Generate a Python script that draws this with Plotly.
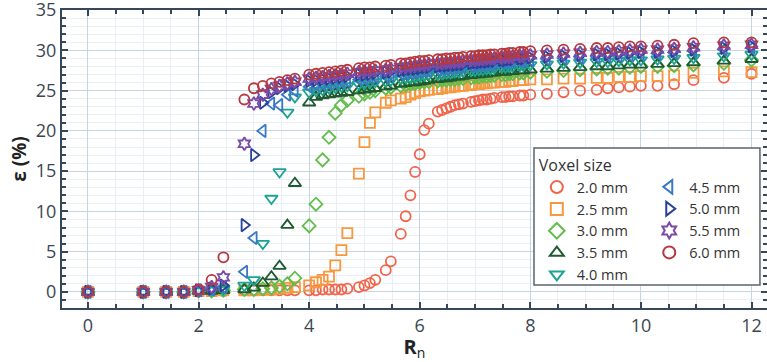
import plotly.graph_objects as go

# Normalised radius R_n (shared x positions of all series)
Rn = [0, 1, 1.414, 1.732, 2, 2.236, 2.449, 2.828, 3, 3.162,
      3.317, 3.464, 3.606, 3.742, 4, 4.123, 4.243, 4.359, 4.472, 4.583,
      4.690, 4.899, 5, 5.099, 5.196, 5.385, 5.477, 5.657, 5.745, 5.831,
      5.916, 6, 6.083, 6.164, 6.325, 6.403, 6.481, 6.557, 6.633, 6.708,
      6.782, 6.928, 7, 7.071, 7.141, 7.211, 7.280, 7.348, 7.483, 7.550,
      7.616, 7.681, 7.810, 7.874, 8, 8.3, 8.6, 8.9, 9.2, 9.4,
      9.6, 9.8, 10.0, 10.3, 10.6, 10.95, 11.5, 12.0]

eps_2_0 = [0, 0, 0, 0, 0.1, 0.1, 0.1, 0.2, 0.2, 0.2,
           0.2, 0.2, 0.2, 0.2, 0.2, 0.2, 0.3, 0.3, 0.3, 0.3,
           0.4, 0.6, 0.8, 1.1, 1.5, 2.7, 3.8, 7.2, 9.4, 12.0,
           14.9, 17.1, 20.1, 20.9, 22.4, 22.6, 22.8, 23.0, 23.2, 23.3,
           23.4, 23.6, 23.7, 23.8, 23.9, 23.9, 24.0, 24.1, 24.2, 24.2,
           24.3, 24.3, 24.4, 24.4, 24.5, 24.6, 24.8, 25.0, 25.1, 25.3,
           25.4, 25.5, 25.6, 25.6, 25.8, 26.3, 26.6, 27.1]
eps_2_5 = [0, 0, 0, 0, 0.1, 0.1, 0.2, 0.2, 0.2, 0.3,
           0.3, 0.4, 0.5, 0.6, 0.8, 1.2, 1.5, 1.9, 3.3, 5.2,
           7.3, 14.7, 18.6, 21.0, 22.3, 23.5, 23.8, 24.0, 24.2, 24.5,
           24.7, 24.9, 25.0, 25.1, 25.2, 25.3, 25.4, 25.4, 25.5, 25.6,
           25.6, 25.7, 25.8, 25.8, 25.9, 25.9, 26.0, 26.0, 26.1, 26.1,
           26.2, 26.2, 26.3, 26.3, 26.4, 26.4, 26.5, 26.5, 26.6, 26.6,
           26.7, 26.7, 26.8, 26.8, 26.9, 27.2, 27.4, 27.3]
eps_3_0 = [0, 0, 0, 0, 0.1, 0.1, 0.2, 0.3, 0.3, 0.4,
           0.5, 0.7, 1.0, 1.7, 8.2, 10.9, 16.4, 19.2, 22.2, 23.2,
           23.8, 24.3, 24.6, 24.8, 25.0, 25.3, 25.4, 25.6, 25.7, 25.8,
           25.9, 26.0, 26.1, 26.1, 26.2, 26.3, 26.3, 26.4, 26.4, 26.5,
           26.5, 26.6, 26.7, 26.7, 26.8, 26.8, 26.9, 26.9, 27.0, 27.0,
           27.1, 27.1, 27.2, 27.2, 27.3, 27.4, 27.5, 27.6, 27.7, 27.8,
           27.8, 27.9, 28.0, 28.0, 28.1, 28.2, 28.4, 28.8]
eps_3_5 = [0, 0, 0, 0, 0.1, 0.1, 0.2, 0.3, 0.5, 1.1,
           1.9, 3.2, 8.3, 13.5, 23.5, 24.2, 24.4, 24.5, 24.6, 24.7,
           24.8, 25.0, 25.1, 25.2, 25.3, 25.5, 25.6, 25.8, 25.9, 26.0,
           26.0, 26.1, 26.2, 26.3, 26.4, 26.5, 26.5, 26.6, 26.7, 26.7,
           26.8, 26.9, 27.0, 27.0, 27.1, 27.1, 27.2, 27.2, 27.3, 27.3,
           27.4, 27.4, 27.5, 27.5, 27.6, 27.7, 27.8, 27.9, 28.0, 28.0,
           28.1, 28.2, 28.2, 28.3, 28.4, 28.5, 28.7, 28.9]
eps_4_0 = [0, 0, 0, 0, 0.1, 0.2, 0.3, 0.8, 1.5, 6.0,
           11.6, 14.9, 22.3, 24.2, 24.8, 25.0, 25.1, 25.3, 25.4, 25.5,
           25.6, 25.8, 25.9, 26.0, 26.1, 26.2, 26.3, 26.5, 26.6, 26.6,
           26.7, 26.8, 26.9, 27.0, 27.0, 27.1, 27.2, 27.2, 27.3, 27.3,
           27.4, 27.5, 27.5, 27.6, 27.6, 27.7, 27.7, 27.8, 27.9, 27.9,
           28.0, 28.0, 28.1, 28.1, 28.2, 28.3, 28.4, 28.5, 28.6, 28.6,
           28.7, 28.8, 28.8, 28.9, 29.0, 29.1, 29.3, 29.5]
eps_4_5 = [0, 0, 0, 0, 0.2, 0.3, 0.6, 2.5, 6.7, 20.0,
           23.4, 23.2, 24.5, 25.0, 25.5, 25.7, 25.8, 25.9, 26.0, 26.1,
           26.2, 26.4, 26.5, 26.6, 26.7, 26.8, 26.9, 27.1, 27.2, 27.2,
           27.3, 27.4, 27.5, 27.5, 27.6, 27.7, 27.7, 27.8, 27.9, 27.9,
           28.0, 28.1, 28.1, 28.2, 28.2, 28.3, 28.3, 28.4, 28.5, 28.5,
           28.6, 28.6, 28.7, 28.7, 28.8, 28.9, 29.0, 29.1, 29.2, 29.3,
           29.3, 29.4, 29.5, 29.6, 29.7, 29.9, 30.1, 30.3]
eps_5_0 = [0, 0, 0, 0, 0.2, 0.4, 0.8, 8.3, 17.0, 23.5,
           24.8, 25.3, 25.6, 25.8, 26.2, 26.3, 26.4, 26.5, 26.6, 26.7,
           26.8, 27.0, 27.0, 27.1, 27.2, 27.3, 27.4, 27.5, 27.6, 27.7,
           27.7, 27.8, 27.9, 27.9, 28.0, 28.1, 28.1, 28.2, 28.2, 28.3,
           28.3, 28.4, 28.5, 28.5, 28.6, 28.6, 28.7, 28.7, 28.8, 28.8,
           28.9, 28.9, 29.0, 29.0, 29.1, 29.2, 29.3, 29.4, 29.5, 29.5,
           29.6, 29.7, 29.8, 29.8, 29.9, 30.1, 30.3, 30.5]
eps_5_5 = [0, 0, 0, 0, 0.2, 0.6, 1.8, 18.4, 23.4, 24.5,
           25.2, 25.6, 25.9, 26.1, 26.5, 26.6, 26.7, 26.8, 26.9, 27.0,
           27.1, 27.3, 27.4, 27.4, 27.5, 27.6, 27.7, 27.9, 27.9, 28.0,
           28.1, 28.2, 28.2, 28.3, 28.4, 28.4, 28.5, 28.5, 28.6, 28.6,
           28.7, 28.8, 28.8, 28.9, 28.9, 29.0, 29.0, 29.0, 29.1, 29.2,
           29.2, 29.2, 29.3, 29.3, 29.4, 29.5, 29.6, 29.7, 29.8, 29.8,
           29.9, 30.0, 30.1, 30.1, 30.2, 30.4, 30.6, 30.7]
eps_6_0 = [0, 0, 0, 0, 0.3, 1.5, 4.3, 23.9, 25.3, 25.6,
           25.9, 26.1, 26.3, 26.5, 27.0, 27.1, 27.2, 27.3, 27.4, 27.5,
           27.6, 27.8, 27.9, 27.9, 28.0, 28.1, 28.2, 28.4, 28.4, 28.5,
           28.6, 28.7, 28.7, 28.8, 28.9, 28.9, 29.0, 29.0, 29.1, 29.1,
           29.2, 29.3, 29.3, 29.4, 29.4, 29.4, 29.5, 29.5, 29.6, 29.6,
           29.7, 29.7, 29.8, 29.8, 29.9, 30.0, 30.1, 30.2, 30.3, 30.3,
           30.4, 30.5, 30.5, 30.6, 30.7, 30.9, 31.0, 31.0]

labels = ["2.0 mm", "2.5 mm", "3.0 mm", "3.5 mm", "4.0 mm",
          "4.5 mm", "5.0 mm", "5.5 mm", "6.0 mm"]
series = [eps_2_0, eps_2_5, eps_3_0, eps_3_5, eps_4_0,
          eps_4_5, eps_5_0, eps_5_5, eps_6_0]
symbols = ["circle-open", "square-open", "diamond-open", "triangle-up-open",
           "triangle-down-open", "triangle-left-open", "triangle-right-open",
           "hexagram-open", "circle-open"]
colors = ["#f0644c", "#f7983f", "#62bd4a", "#1f5a33", "#1ca391",
          "#3a78c6", "#283f97", "#7b4aa6", "#b7383d"]

AX = "#37475a"
TXT = "#3a4652"
FONT = "Open Sans, Noto Sans, sans-serif"

fig = go.Figure()
for i, (lab, ys) in enumerate(zip(labels, series)):
    fig.add_trace(go.Scatter(
        x=Rn, y=ys, mode="markers", name=lab,
        legend="legend" if i < 5 else "legend2",
        marker=dict(symbol=symbols[i], size=10 if "triangle" not in symbols[i] else 11,
                    color=colors[i], line=dict(width=1.8, color=colors[i])),
    ))

axis_common = dict(
    showline=True, linecolor=AX, linewidth=2, mirror="allticks",
    ticks="inside", ticklen=6, tickwidth=1.5, tickcolor=AX,
    showgrid=True, gridcolor="#c5d6e1", gridwidth=1,
    zeroline=False, automargin=False, ticklabeloverflow="allow",
    tickfont=dict(family=FONT, size=18, color=TXT),
)

fig.update_xaxes(
    range=[-0.47, 12.28], dtick=2, tick0=0,
    minor=dict(dtick=0.5, ticks="inside", ticklen=4, tickcolor=AX,
               showgrid=True, gridcolor="#e9f0f5"),
    title=dict(text="<b>R</b><sub>n</sub>", font=dict(family=FONT, size=20, color="#222"),
               standoff=4),
    **axis_common,
)
fig.update_yaxes(
    range=[-2, 35.02], dtick=5, tick0=0,
    minor=dict(dtick=1, ticks="inside", ticklen=4, tickcolor=AX,
               showgrid=True, gridcolor="#e9f0f5"),
    title=dict(text="<b>ε (%)</b>", font=dict(family=FONT, size=19, color="#222"),
               standoff=4),
    **axis_common,
)

fig.add_shape(type="rect", xref="paper", yref="paper",
              x0=0.6695, x1=0.990, y0=0.077, y1=0.537, layer="above",
              fillcolor="white", line=dict(color="#5a6570", width=1.5))

leg_font = dict(family=FONT, size=14.5, color="#333")
fig.update_layout(
    width=767, height=362,
    margin=dict(l=62, r=0, t=10, b=54, autoexpand=False),
    paper_bgcolor="white", plot_bgcolor="white",
    font=dict(family=FONT, color=TXT),
    legend=dict(x=0.6735, y=0.529, xanchor="left", yanchor="top",
                bgcolor="rgba(0,0,0,0)", font=leg_font,
                title=dict(text="Voxel size", font=dict(family=FONT, size=16, color="#333")),
                tracegroupgap=0, itemsizing="constant"),
    legend2=dict(x=0.833, y=0.460, xanchor="left", yanchor="top",
                 bgcolor="rgba(0,0,0,0)", font=leg_font,
                 tracegroupgap=0, itemsizing="constant"),
    showlegend=True,
)

fig.write_html(
    "out.html",
    config={"displayModeBar": False},
    post_script="document.body.style.margin='0';document.body.style.overflow='hidden';",
)
